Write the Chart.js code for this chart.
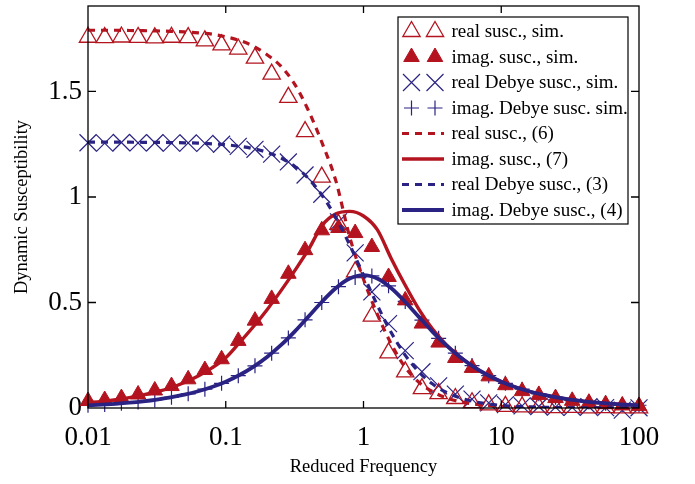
<!DOCTYPE html>
<html>
<head>
<meta charset="utf-8">
<script src="https://cdn.jsdelivr.net/npm/chart.js@4.4.1/dist/chart.umd.min.js"></script>
<style>
  html, body { margin: 0; padding: 0; background: #fff; }
  #wrap { width: 695px; height: 484px; }
</style>
</head>
<body>
<div id="wrap"><canvas id="chart" width="695" height="484"></canvas></div>
<script>
// reduced frequency of the simulation points and of the theory curves
const simFreq = [0.01, 0.01322, 0.01748, 0.0231, 0.03054, 0.04037, 0.05337, 0.07055, 0.09326, 0.1233,
  0.163, 0.2154, 0.2848, 0.3765, 0.4977, 0.6579, 0.8697, 1.15, 1.52, 2.009,
  2.656, 3.511, 4.642, 6.136, 8.111, 10.72, 14.17, 18.74, 24.77, 32.74,
  43.29, 57.22, 75.65, 100];
const theoryFreq = [0.01, 0.01259, 0.01585, 0.01995, 0.02512, 0.03162, 0.03981, 0.05012, 0.0631, 0.07943,
  0.1, 0.1259, 0.1585, 0.1995, 0.2512, 0.3162, 0.3981, 0.5012, 0.631, 0.7943,
  1, 1.259, 1.585, 1.995, 2.512, 3.162, 3.981, 5.012, 6.31, 7.943,
  10, 12.59, 15.85, 19.95, 25.12, 31.62, 39.81, 50.12, 63.1, 79.43, 100];

// simulation
const realSim = [1.757, 1.755, 1.758, 1.756, 1.754, 1.757, 1.755, 1.740, 1.721, 1.701,
  1.658, 1.582, 1.472, 1.310, 1.094, 0.87, 0.645, 0.435, 0.261, 0.171,
  0.092, 0.068, 0.045, 0.025, 0.015, 0.008, 0.005, 0.004, 0.002, 0.003,
  0.001, 0.002, 0.001, 0.001];
const imagSim = [0.033, 0.038, 0.047, 0.064, 0.083, 0.104, 0.136, 0.180, 0.231, 0.318,
  0.414, 0.517, 0.636, 0.748, 0.842, 0.853, 0.829, 0.763, 0.621, 0.51,
  0.40, 0.31, 0.237, 0.19, 0.15, 0.108, 0.080, 0.062, 0.047, 0.034,
  0.025, 0.018, 0.012, 0.009];
const realDebyeSim = [1.257, 1.255, 1.258, 1.256, 1.257, 1.255, 1.256, 1.254, 1.250, 1.240,
  1.226, 1.203, 1.166, 1.104, 1.013, 0.882, 0.735, 0.55, 0.40, 0.272,
  0.172, 0.105, 0.066, 0.042, 0.024, 0.016, 0.010, 0.007, 0.004, 0.003,
  0.006, 0.002, -0.01, 0.001];
const imagDebyeSim = [0.013, 0.017, 0.022, 0.029, 0.038, 0.051, 0.067, 0.089, 0.117, 0.153,
  0.200, 0.260, 0.332, 0.418, 0.500, 0.575, 0.618, 0.626, 0.579, 0.505,
  0.416, 0.330, 0.260, 0.201, 0.153, 0.117, 0.089, 0.067, 0.051, 0.038,
  0.029, 0.022, 0.017, 0.013];

// theory
const realTheory = [1.79, 1.79, 1.79, 1.789, 1.788, 1.787, 1.785, 1.782, 1.778, 1.772,
  1.759, 1.742, 1.715, 1.674, 1.62, 1.535, 1.41, 1.255, 1.075, 0.81,
  0.61, 0.445, 0.305, 0.195, 0.123, 0.078, 0.048, 0.030, 0.019, 0.012,
  0.0075, 0.0047, 0.003, 0.0019, 0.0012, 0.0008, 0.0005, 0.0003, 0.0002, 0.0001, 0.0001];
const imagTheory = [0.025, 0.031, 0.039, 0.049, 0.062, 0.077, 0.096, 0.121, 0.152, 0.19,
  0.238, 0.31, 0.385, 0.466, 0.555, 0.65, 0.75, 0.865, 0.92, 0.932,
  0.91, 0.845, 0.71, 0.585, 0.47, 0.375, 0.30, 0.243, 0.195, 0.156,
  0.125, 0.0995, 0.0792, 0.063, 0.0501, 0.0398, 0.0316, 0.0251, 0.02, 0.0159, 0.0126];
const realDebyeTheory = [1.2599, 1.2598, 1.2597, 1.2595, 1.2592, 1.2587, 1.258, 1.2568, 1.255, 1.2521,
  1.2475, 1.2404, 1.2291, 1.2118, 1.1852, 1.1455, 1.0876, 1.0071, 0.9012, 0.7725,
  0.63, 0.4874, 0.3588, 0.253, 0.1724, 0.1145, 0.0748, 0.0482, 0.0309, 0.0197,
  0.0125, 0.0079, 0.005, 0.0032, 0.002, 0.0013, 0.0008, 0.0005, 0.0003, 0.0002, 0.0001];
const imagDebyeTheory = [0.0126, 0.0159, 0.02, 0.0251, 0.0316, 0.0398, 0.0501, 0.063, 0.0792, 0.0994,
  0.1248, 0.1562, 0.1949, 0.2417, 0.2977, 0.3622, 0.433, 0.5048, 0.5687, 0.6136,
  0.63, 0.6136, 0.5687, 0.5048, 0.433, 0.3622, 0.2977, 0.2417, 0.1949, 0.1562,
  0.1248, 0.0994, 0.0792, 0.063, 0.0501, 0.0398, 0.0316, 0.0251, 0.02, 0.0159, 0.0126];

const xTicks = [0.01, 0.1, 1, 10, 100];
const xTickLabels = ['0.01', '0.1', '1', '10', '100'];
const yTicks = [0, 0.5, 1, 1.5];
const yTickLabels = ['0', '0.5', '1', '1.5'];

const legendLabels = [
  'real susc., sim.', 'imag. susc., sim.', 'real Debye susc., sim.', 'imag. Debye susc. sim.',
  'real susc., (6)', 'imag. susc., (7)', 'real Debye susc., (3)', 'imag. Debye susc., (4)'
];

const RED = '#b3141f';
const BLUE = '#2a2383';
const SERIF = '"Liberation Serif", "Times New Roman", serif';

const pairs = (xs, ys) => xs.map((x, i) => ({ x, y: ys[i] }));

const markerStyles = [
  { pointStyle: 'triangle', radius: 10, fill: 'rgba(0,0,0,0)', stroke: RED, width: 1.3 },
  { pointStyle: 'triangle', radius: 9, fill: RED, stroke: RED, width: 1 },
  { pointStyle: 'crossRot', radius: 12, fill: BLUE, stroke: BLUE, width: 1.2 },
  { pointStyle: 'cross', radius: 7.5, fill: BLUE, stroke: BLUE, width: 1.2 }
];
const lineStyles = [
  { color: RED, width: 3.2, dash: [7, 6] },
  { color: RED, width: 3.4, dash: [] },
  { color: BLUE, width: 3.2, dash: [7, 6] },
  { color: BLUE, width: 3.8, dash: [] }
];

function simSet(label, ys, st, order) {
  return {
    label, data: pairs(simFreq, ys), showLine: false, order, clip: false,
    pointStyle: st.pointStyle, pointRadius: st.radius, pointBackgroundColor: st.fill,
    pointBorderColor: st.stroke, pointBorderWidth: st.width
  };
}
function theorySet(label, ys, st, order) {
  return {
    label, data: pairs(theoryFreq, ys), showLine: true, order, pointRadius: 0,
    borderColor: st.color, borderWidth: st.width, borderDash: st.dash,
    cubicInterpolationMode: 'monotone', fill: false
  };
}

// frame, inward ticks, axis titles and the two-marker legend
const decorations = {
  id: 'decorations',
  afterDraw(chart) {
    const { ctx, chartArea: a, scales: { x, y } } = chart;
    ctx.save();
    ctx.strokeStyle = '#000';
    ctx.lineWidth = 1.3;
    ctx.strokeRect(a.left, a.top, a.right - a.left, a.bottom - a.top);
    ctx.beginPath();
    xTicks.slice(1, -1).forEach(v => {
      const px = x.getPixelForValue(v);
      ctx.moveTo(px, a.bottom); ctx.lineTo(px, a.bottom - 7);
      ctx.moveTo(px, a.top); ctx.lineTo(px, a.top + 7);
    });
    yTicks.slice(1).forEach(v => {
      const py = y.getPixelForValue(v);
      ctx.moveTo(a.left, py); ctx.lineTo(a.left + 8, py);
      ctx.moveTo(a.right, py); ctx.lineTo(a.right - 8, py);
    });
    ctx.stroke();

    ctx.fillStyle = '#000';
    ctx.font = '18.5px ' + SERIF;
    ctx.textAlign = 'center';
    ctx.textBaseline = 'middle';
    ctx.fillText('Reduced Frequency', (a.left + a.right) / 2, 467);
    ctx.save();
    ctx.translate(22, 207);
    ctx.rotate(-Math.PI / 2);
    ctx.fillText('Dynamic Susceptibility', 0, 0);
    ctx.restore();

    // legend
    const box = { left: 398, top: 17, right: 628, bottom: 224 };
    ctx.fillStyle = '#fff';
    ctx.fillRect(box.left, box.top, box.right - box.left, box.bottom - box.top);
    ctx.lineWidth = 1.2;
    ctx.strokeStyle = '#000';
    ctx.strokeRect(box.left, box.top, box.right - box.left, box.bottom - box.top);
    const rowH = 25.5;
    legendLabels.forEach((label, i) => {
      const cy = 31.5 + i * rowH;
      if (i < 4) {
        const st = markerStyles[i];
        [411.5, 435].forEach(mx => {
          ctx.fillStyle = st.fill;
          ctx.strokeStyle = st.stroke;
          ctx.lineWidth = st.width;
          Chart.helpers.drawPoint(ctx, { pointStyle: st.pointStyle, radius: st.radius, rotation: 0, borderWidth: st.width }, mx, cy);
        });
      } else {
        const st = lineStyles[i - 4];
        ctx.beginPath();
        ctx.setLineDash(st.dash);
        ctx.lineDashOffset = 0;
        ctx.strokeStyle = st.color;
        ctx.lineWidth = st.width;
        ctx.moveTo(402, cy); ctx.lineTo(444, cy);
        ctx.stroke();
        ctx.setLineDash([]);
      }
      ctx.fillStyle = '#000';
      ctx.font = '19px ' + SERIF;
      ctx.textAlign = 'left';
      ctx.textBaseline = 'middle';
      ctx.fillText(label, 451.5, cy + 1);
    });
    ctx.restore();
  }
};

new Chart(document.getElementById('chart'), {
  type: 'scatter',
  data: {
    datasets: [
      theorySet(legendLabels[7], imagDebyeTheory, lineStyles[3], 0),
      theorySet(legendLabels[6], realDebyeTheory, lineStyles[2], 1),
      theorySet(legendLabels[5], imagTheory, lineStyles[1], 2),
      theorySet(legendLabels[4], realTheory, lineStyles[0], 3),
      simSet(legendLabels[0], realSim, markerStyles[0], 4),
      simSet(legendLabels[1], imagSim, markerStyles[1], 5),
      simSet(legendLabels[2], realDebyeSim, markerStyles[2], 6),
      simSet(legendLabels[3], imagDebyeSim, markerStyles[3], 7)
    ]
  },
  options: {
    responsive: false,
    animation: false,
    layout: { autoPadding: false, padding: { top: 6, right: 56, left: 0, bottom: 0 } },
    plugins: { legend: { display: false }, tooltip: { enabled: false } },
    scales: {
      x: {
        type: 'logarithmic', min: 0.01, max: 100,
        afterBuildTicks: s => { s.ticks = xTicks.map(v => ({ value: v })); },
        afterFit: s => { s.height = 76; s.paddingLeft = 0; s.paddingRight = 0; },
        grid: { display: false, drawTicks: false }, border: { display: false },
        ticks: {
          color: '#000', font: { family: SERIF, size: 27 }, padding: 14,
          maxRotation: 0, autoSkip: false, callback: (v, i) => xTickLabels[i]
        }
      },
      y: {
        min: 0, max: 1.905,
        afterBuildTicks: s => { s.ticks = yTicks.map(v => ({ value: v })); },
        afterFit: s => { s.width = 88; s.paddingTop = 0; s.paddingBottom = 0; },
        grid: { display: false, drawTicks: false }, border: { display: false },
        ticks: { color: '#000', font: { family: SERIF, size: 27 }, padding: 6, callback: (v, i) => yTickLabels[i] }
      }
    }
  },
  plugins: [decorations]
});
</script>
</body>
</html>
